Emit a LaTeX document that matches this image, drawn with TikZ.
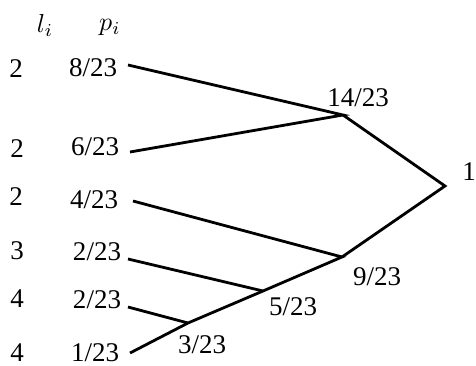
\documentclass[tikz,border=0pt]{standalone}
\usepackage{graphicx}
\usepackage{fontspec}
\setmainfont{Liberation Serif}
\begin{document}
\begin{tikzpicture}[x=1pt,y=-1pt,
  lbl/.style={font=\fontsize{27}{30}\selectfont, inner sep=0pt, anchor=base},
  hdr/.style={inner sep=0pt, anchor=base},
  edge/.style={line width=2.8pt, line join=miter}]
\useasboundingbox (0,0) rectangle (476,366);
% header
\node[hdr] (hl) at (45,33) {\scalebox{2.6}{$l_i$}};
\node[hdr] (hp) at (110,31) {\scalebox{2.6}{$p_i$}};
% lengths
\node[lbl] (l1) at (16,78) {2};
\node[lbl] (l2) at (17,158) {2};
\node[lbl] (l3) at (16,205) {2};
\node[lbl] (l4) at (17,259) {3};
\node[lbl] (l5) at (17,307) {4};
\node[lbl] (l6) at (17,361) {4};
% probabilities
\node[lbl] (p1) at (93,77) {8/23};
\node[lbl] (p2) at (95,156) {6/23};
\node[lbl] (p3) at (94,208) {4/23};
\node[lbl] (p4) at (97,260) {2/23};
\node[lbl] (p5) at (97,308) {2/23};
\node[lbl] (p6) at (95,361) {1/23};
% leaf line starts
\coordinate (s1) at (128,65);
\coordinate (s2) at (130,152);
\coordinate (s3) at (133,201);
\coordinate (s4) at (128,259);
\coordinate (s5) at (128,307);
\coordinate (s6) at (130,353);
% joints
\coordinate (j14) at (343,115);
\coordinate (j1) at (445,186);
\coordinate (j9) at (342,257);
\coordinate (j5) at (263,291);
\coordinate (j3) at (188,323);
% joint labels
\node[lbl] (t14) at (358,107) {14/23};
\node[lbl] (t1) at (469,180) {1};
\node[lbl] (t9) at (377,285) {9/23};
\node[lbl] (t5) at (293,315) {5/23};
\node[lbl] (t3) at (202,353) {3/23};
% edges
\draw[edge] (s1) -- (j14) -- (s2);
\draw[edge] (j14) -- (j1) -- (j9);
\draw[edge] (s3) -- (j9) -- (j5) -- (j3) -- (s6);
\draw[edge] (s4) -- (j5);
\draw[edge] (s5) -- (j3);
\end{tikzpicture}
\end{document}
